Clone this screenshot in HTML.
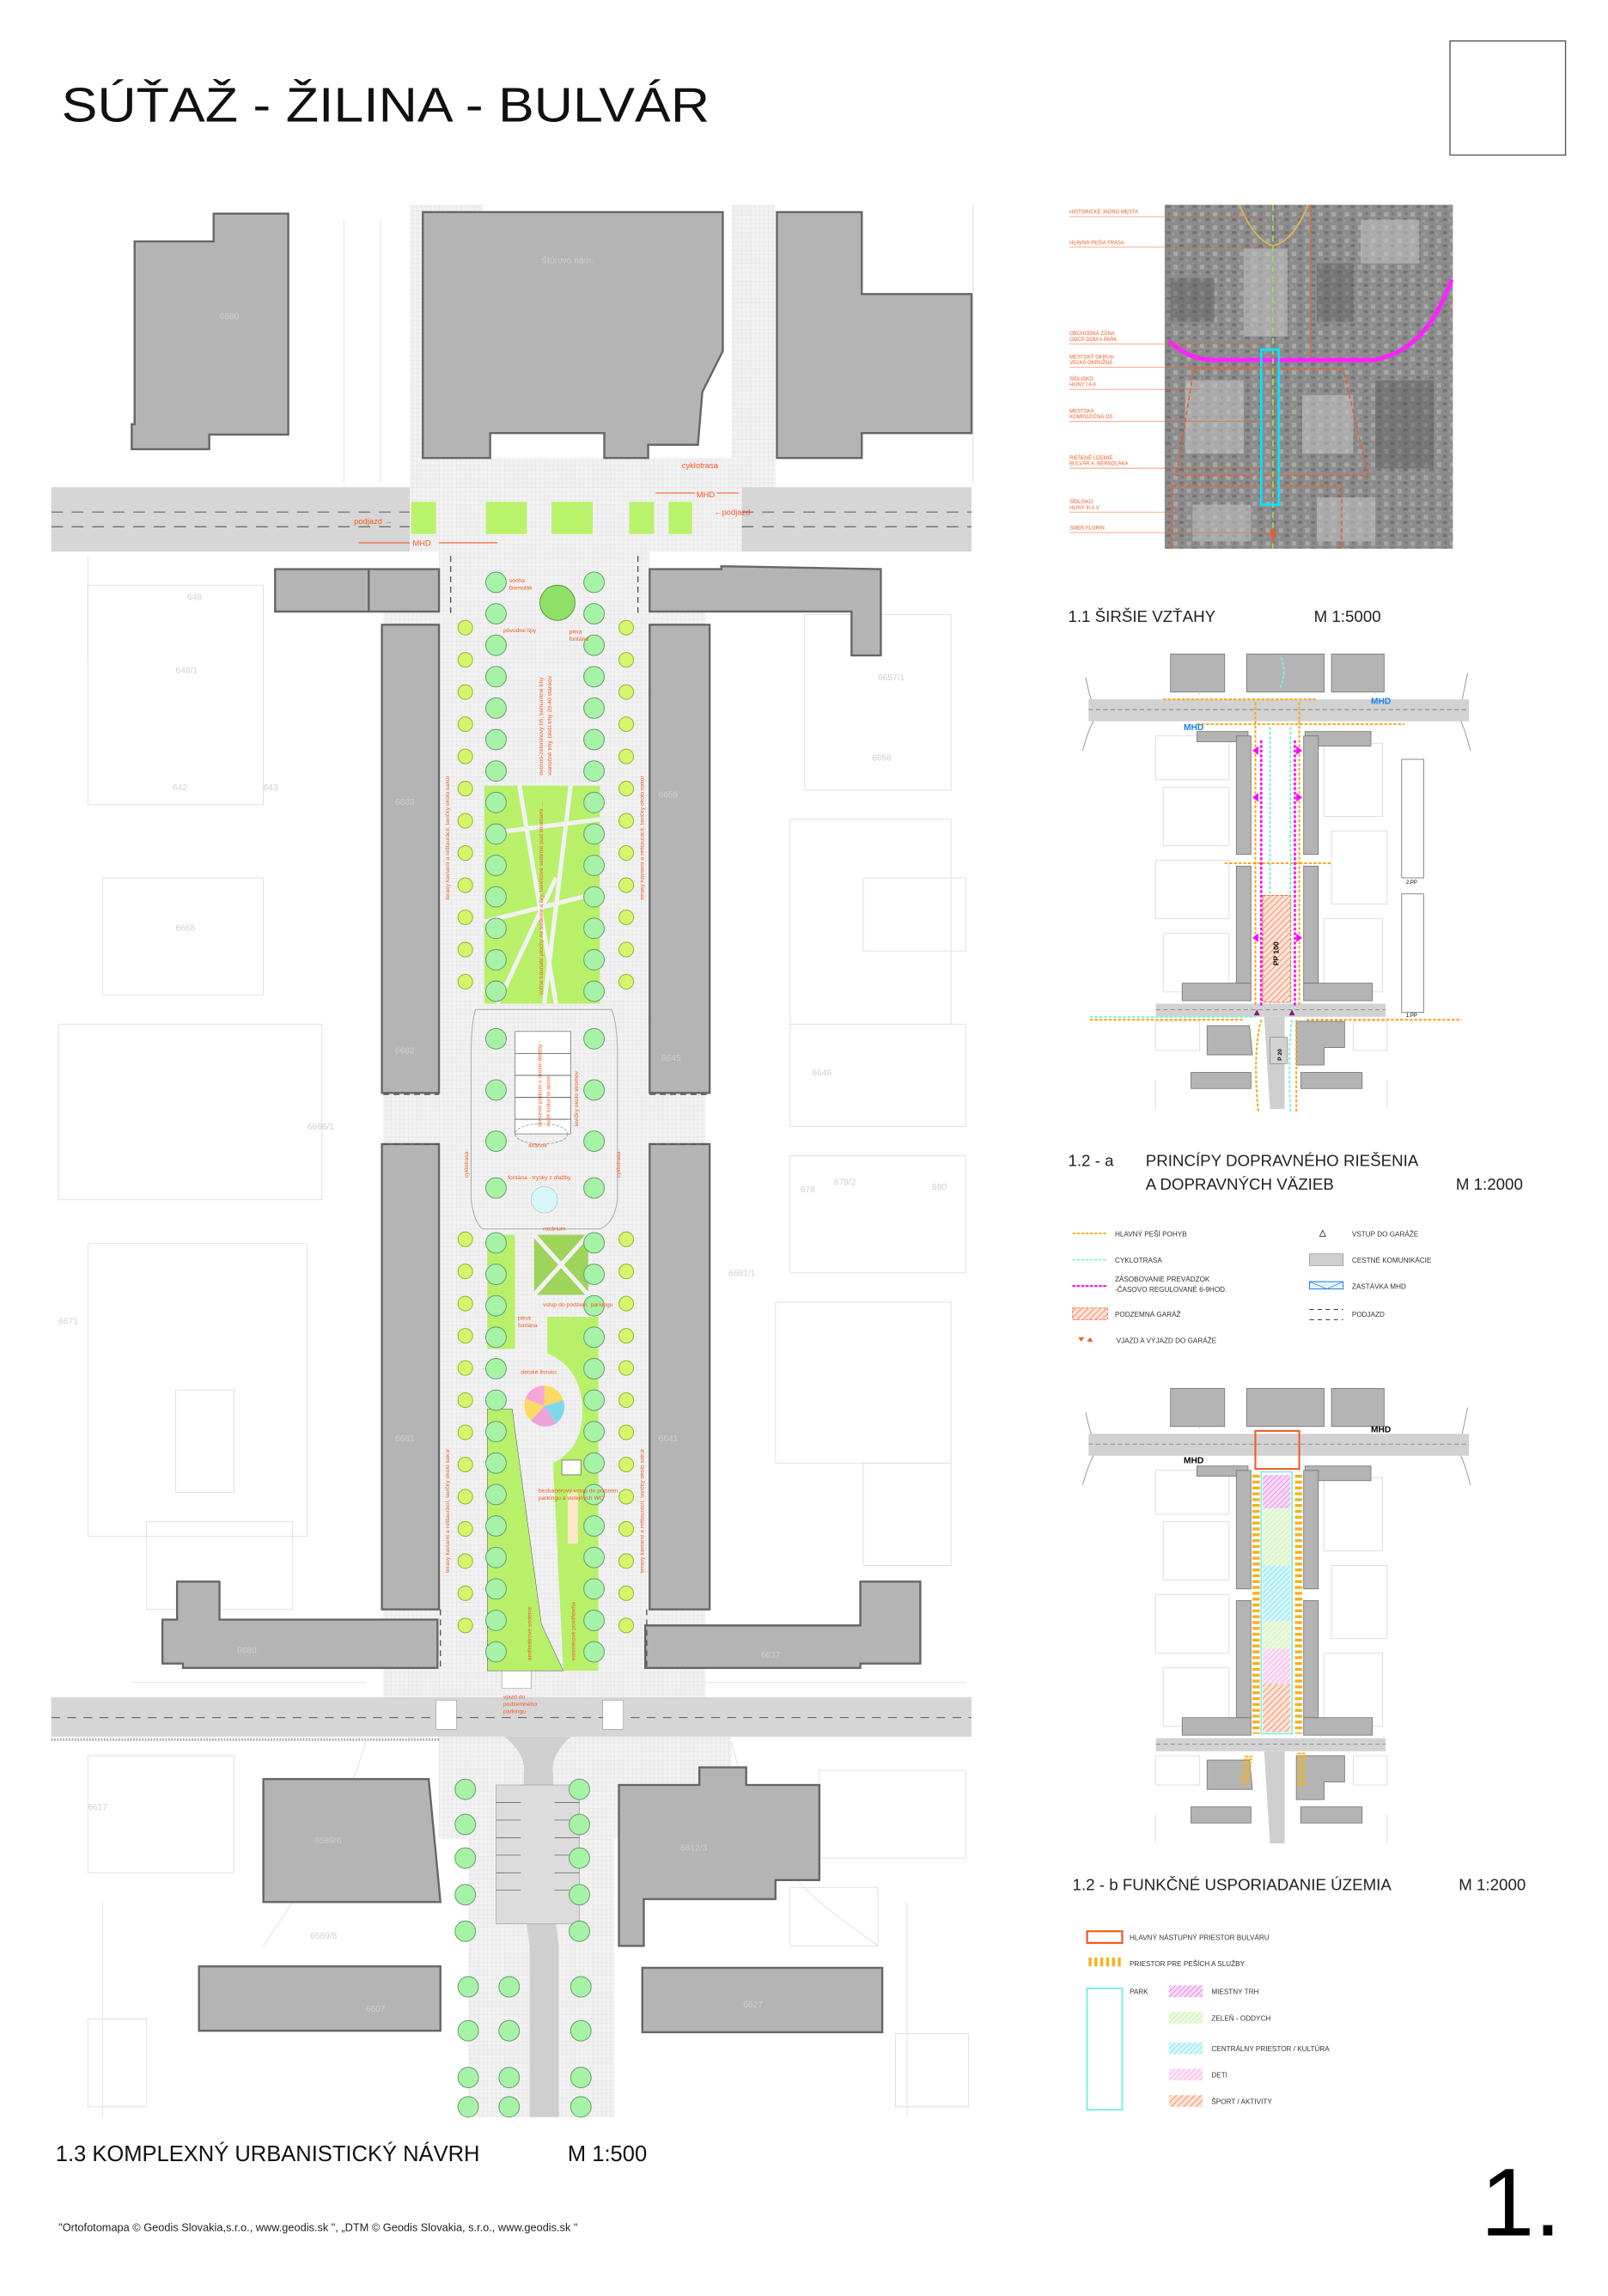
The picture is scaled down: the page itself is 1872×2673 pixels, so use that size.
<!DOCTYPE html>
<html><head><meta charset="utf-8">
<style>
html,body{margin:0;padding:0;background:#fff;}
svg{display:block;}
text{font-family:"Liberation Sans",sans-serif;}
</style></head>
<body>
<svg id="s" width="1872" height="2673" viewBox="0 0 1099 1569.3" xmlns="http://www.w3.org/2000/svg">
<defs>
  <pattern id="grid" width="3" height="3" patternUnits="userSpaceOnUse">
    <rect width="3" height="3" fill="#f2f2f2"/>
    <path d="M0 0H3M0 0V3" stroke="#dcdcdc" stroke-width="0.4"/>
  </pattern>
  <pattern id="hOr" width="3" height="3" patternUnits="userSpaceOnUse" patternTransform="rotate(45)">
    <rect width="3" height="3" fill="#fde3d8"/><path d="M0 0V3" stroke="#f26b3a" stroke-width="0.8"/>
  </pattern>
  <pattern id="hMg" width="2.5" height="2.5" patternUnits="userSpaceOnUse" patternTransform="rotate(45)">
    <rect width="3" height="3" fill="#f8dcf6"/><path d="M0 0V3" stroke="#e040e0" stroke-width="0.6"/>
  </pattern>
  <pattern id="hGr" width="2.5" height="2.5" patternUnits="userSpaceOnUse" patternTransform="rotate(45)">
    <rect width="3" height="3" fill="#eefbe3"/><path d="M0 0V3" stroke="#a7ec7a" stroke-width="0.6"/>
  </pattern>
  <pattern id="hCy" width="2.5" height="2.5" patternUnits="userSpaceOnUse" patternTransform="rotate(45)">
    <rect width="3" height="3" fill="#d8f7fb"/><path d="M0 0V3" stroke="#37d6ef" stroke-width="0.6"/>
  </pattern>
  <pattern id="hPk" width="2.5" height="2.5" patternUnits="userSpaceOnUse" patternTransform="rotate(45)">
    <rect width="3" height="3" fill="#fbe6f6"/><path d="M0 0V3" stroke="#f08ad8" stroke-width="0.6"/>
  </pattern>
  <pattern id="yStr" width="2" height="4" patternUnits="userSpaceOnUse">
    <rect width="2" height="4" fill="#fff"/><rect width="2" height="2" fill="#f6b21b"/>
  </pattern>
  <pattern id="yStrV" width="4" height="2" patternUnits="userSpaceOnUse">
    <rect width="4" height="2" fill="#fff"/><rect width="2" height="2" fill="#f6b21b"/>
  </pattern>
  <pattern id="aer" width="9" height="9" patternUnits="userSpaceOnUse">
    <rect width="9" height="9" fill="#8c8c8c"/>
    <rect x="1" y="1" width="3" height="3" fill="#a8a8a8"/>
    <rect x="5" y="5" width="3" height="2" fill="#727272"/>
    <rect x="0" y="6" width="2" height="2" fill="#9a9a9a"/>
    <rect x="6" y="1" width="2" height="2" fill="#7c7c7c"/>
  </pattern>

  <!-- BASE SMALL PLAN (b coords) -->
  <g id="base">
    <g fill="none" stroke="#d0d0d0" stroke-width="0.4">
      <rect x="790" y="1005" width="50" height="30"/><rect x="795" y="1040" width="45" height="40"/>
      <rect x="790" y="1090" width="50" height="40"/><rect x="795" y="1140" width="45" height="40"/>
      <rect x="905" y="1010" width="40" height="50"/><rect x="910" y="1070" width="38" height="50"/>
      <rect x="905" y="1130" width="40" height="50"/><rect x="790" y="1200" width="30" height="20"/>
      <rect x="925" y="1200" width="23" height="20"/><path d="M790 1240V1260M948 1240V1260M820 960V977M940 960V977"/>
    </g>
    <path d="M748 985Q745 980 742 965M748 994Q744 1000 740 1015M998 985Q1000 978 1003 962M998 994Q1001 1000 1005 1015" stroke="#888" stroke-width="0.5" fill="none"/>
    <rect x="744" y="980" width="260" height="15" fill="#d2d2d2"/>
    <path d="M744 987H1004" stroke="#666" stroke-width="0.4" stroke-dasharray="3 2"/>
    <rect x="790" y="1188" width="157" height="9" fill="#d2d2d2"/>
    <path d="M790 1192H947" stroke="#666" stroke-width="0.4" stroke-dasharray="3 2"/>
    <path d="M864 1197H878V1260H868Z" fill="#cfcfcf"/>
    <g fill="#b4b4b4" stroke="#777" stroke-width="0.5">
      <rect x="800" y="949" width="37" height="26"/><rect x="852" y="949" width="53" height="26"/><rect x="910" y="949" width="36" height="26"/>
      <rect x="818" y="1002" width="35" height="7"/><rect x="892" y="1002" width="45" height="10"/>
      <rect x="845" y="1005" width="10" height="81"/><rect x="845" y="1094" width="10" height="80"/>
      <rect x="891" y="1005" width="10" height="81"/><rect x="891" y="1094" width="10" height="80"/>
      <rect x="808" y="1174" width="47" height="12"/><rect x="891" y="1174" width="47" height="12"/>
      <polygon points="825,1203 854,1203 856,1223 825,1223"/><polygon points="886,1200 919,1200 919,1218 905,1218 905,1230 886,1230"/>
      <rect x="814" y="1235" width="41" height="11"/><rect x="889" y="1235" width="42" height="11"/>
    </g>
  </g>
</defs>

<!-- TITLE -->
<text x="42" y="83" font-size="33" textLength="443" lengthAdjust="spacingAndGlyphs" fill="#111">SÚŤAŽ - ŽILINA - BULVÁR</text>
<rect x="991" y="28" width="79" height="78" fill="none" stroke="#555" stroke-width="0.8"/>

<!-- ================= MAIN PLAN ================= -->
<g id="main">
  <g fill="none" stroke="#dcdcdc" stroke-width="0.5">
    <rect x="60" y="400" width="120" height="150"/><rect x="70" y="600" width="110" height="80"/>
    <rect x="40" y="700" width="180" height="120"/><rect x="60" y="850" width="150" height="200"/>
    <rect x="550" y="420" width="100" height="120"/><rect x="540" y="560" width="110" height="140"/>
    <rect x="590" y="600" width="70" height="50"/><rect x="540" y="700" width="120" height="70"/>
    <rect x="540" y="790" width="120" height="80"/><rect x="530" y="890" width="120" height="110"/>
    <rect x="590" y="1000" width="60" height="70"/><rect x="60" y="1200" width="100" height="80"/>
    <rect x="560" y="1210" width="100" height="60"/><rect x="60" y="1380" width="40" height="60"/>
    <rect x="612" y="1390" width="50" height="50"/><rect x="100" y="1040" width="100" height="60"/>
    <rect x="120" y="950" width="40" height="70"/><rect x="540" y="1290" width="60" height="40"/>
    <path d="M235 150V330M260 150V330M290 330V140M665 140V330M60 380V450M250 1190C230 1260 200 1300 180 1330M500 1190C520 1280 560 1300 600 1330M70 1300V1447M620 1300V1447M90 1150H250M440 1150H660"/>
  </g>
  <rect x="280" y="140" width="50" height="237" fill="url(#grid)"/>
  <rect x="500" y="140" width="30" height="195" fill="url(#grid)"/>
  <rect x="330" y="313" width="200" height="22" fill="url(#grid)"/>
  <rect x="300" y="377" width="144" height="783" fill="url(#grid)"/>
  <rect x="262" y="418" width="40" height="742" fill="url(#grid)"/>
  <rect x="442" y="418" width="40" height="742" fill="url(#grid)"/>
  <rect x="300" y="1187" width="200" height="70" fill="url(#grid)"/>
  <rect x="320" y="1187" width="100" height="260" fill="url(#grid)"/>

  <rect x="35" y="333" width="629" height="44" fill="#d6d6d6"/>
  <rect x="280" y="333" width="227" height="44" fill="url(#grid)"/>
  <g fill="#b9f26b"><rect x="281" y="343" width="17" height="22"/><rect x="332" y="343" width="28" height="22"/><rect x="377" y="343" width="28" height="22"/><rect x="430" y="343" width="17" height="22"/><rect x="457" y="343" width="16" height="22"/></g>
  <path d="M35 350H280M507 350H664M35 360H280M507 360H664" stroke="#555" stroke-width="0.6" stroke-dasharray="8 6"/>
  <rect x="35" y="1160" width="629" height="27" fill="#d6d6d6"/>
  <path d="M35 1174H664" stroke="#444" stroke-width="0.5" stroke-dasharray="6 5"/>
  <path d="M35 1189H300" stroke="#aaa" stroke-width="2" stroke-dasharray="1 1"/>
  <path d="M345 1187Q360 1200 358 1212V1300L362 1330V1447H382V1330L378 1300V1212Q376 1200 390 1187Z" fill="#cfcfcf"/>
  <rect x="339" y="1220" width="57" height="95" fill="#dcdcdc" stroke="#888" stroke-width="0.3"/>
  <g stroke="#555" stroke-width="0.4"><path d="M339 1232H356M339 1244H356M339 1256H356M339 1268H356M339 1280H356M339 1292H356M379 1232H396M379 1244H396M379 1256H396M379 1268H396M379 1280H396M379 1292H396"/></g>
  <g fill="#fff" stroke="#888" stroke-width="0.3"><rect x="343" y="1140" width="20" height="14"/><rect x="298" y="1162" width="14" height="20"/><rect x="412" y="1162" width="14" height="20"/></g>

  <rect x="331" y="537" width="79" height="149" fill="#b8f06a"/>
  <g stroke="#f2f2f2" stroke-width="3" fill="none"><path d="M331 570L410 560M355 537L380 686M331 630L410 610M390 537L372 686M340 686L380 600"/></g>
  <path d="M325 690Q322 700 322 720V820Q324 836 330 840H410Q420 836 422 820V720Q422 700 418 690Z" fill="none" stroke="#aaa" stroke-width="0.6"/>
  <rect x="352" y="705" width="38" height="70" fill="#fff" stroke="#666" stroke-width="0.4"/>
  <path d="M352 720H390M352 735H390M352 750H390M352 765H390" stroke="#555" stroke-width="0.5"/>
  <circle cx="372" cy="820" r="9" fill="#d6f7f7" stroke="#aaa" stroke-width="0.3"/>
  <ellipse cx="370" cy="775" rx="18" ry="7" fill="none" stroke="#888" stroke-width="0.4" stroke-dasharray="2 1"/>
  <rect x="333" y="844" width="19" height="78" fill="#b8f06a"/>
  <rect x="365" y="844" width="37" height="41" fill="#9fd45a"/>
  <path d="M365 844L402 885M402 844L365 885" stroke="#f2f2f2" stroke-width="3"/>
  <path d="M374 900H409V1142H385L378 1000Q398 990 398 965Q398 935 374 925Z" fill="#b8f06a"/>
  <path d="M333 963H350L370 1110L385 1142H333Z" fill="#b8f06a" stroke="#557" stroke-width="0.3"/>
  <rect x="384" y="998" width="13" height="10" fill="#fff" stroke="#555" stroke-width="0.4"/>
  <rect x="388" y="1020" width="7" height="35" fill="#fbe8c8"/>
  <g transform="translate(372,961)">
    <path d="M0 0L0 -14A14 14 0 0 1 13 -4Z" fill="#fbd965"/>
    <path d="M0 0L13 -4A14 14 0 0 1 8 12Z" fill="#7dd8ea"/>
    <path d="M0 0L8 12A14 14 0 0 1 -9 10Z" fill="#eca3d8"/>
    <path d="M0 0L-9 10A14 14 0 0 1 -13 -5Z" fill="#fbd965"/>
    <path d="M0 0L-13 -5A14 14 0 0 1 0 -14Z" fill="#f5a6d7"/>
  </g>
  <circle cx="381" cy="412" r="12" fill="#8fe066" stroke="#5c9c3a" stroke-width="0.6"/>

  <g fill="#b4b4b4" stroke="#666" stroke-width="1.4">
    <polygon points="92,165 146,165 146,146 197,146 197,297 143,297 143,307 90,307 90,290 92,290"/>
    <polygon points="289,145 494,145 494,240 480,268 477,304 443,304 443,313 413,313 413,296 335,296 335,313 289,313"/>
    <polygon points="531,145 589,145 589,201 664,201 664,296 589,296 589,313 531,313"/>
    <rect x="188" y="389" width="64" height="29"/><rect x="252" y="389" width="48" height="29"/>
    <polygon points="444,389 493,389 493,387 602,389 602,448 582,448 582,418 444,418"/>
    <rect x="261" y="427" width="39" height="320"/><rect x="261" y="782" width="39" height="318"/>
    <rect x="444" y="427" width="41" height="320"/><rect x="444" y="782" width="41" height="318"/>
    <polygon points="121,1081 150,1081 150,1107 299,1107 299,1140 125,1140 125,1137 111,1137 111,1107 121,1107"/>
    <polygon points="441,1111 588,1111 588,1081 629,1081 629,1137 588,1137 588,1140 441,1140"/>
    <polygon points="180,1216 293,1216 301,1300 180,1300"/>
    <polygon points="423,1220 478,1220 478,1208 510,1208 510,1220 560,1220 560,1285 530,1285 530,1298 440,1298 440,1330 423,1330"/>
    <rect x="136" y="1344" width="165" height="44"/><rect x="439" y="1345" width="164" height="44"/>
  </g>
  <g fill="none" stroke="#555" stroke-width="0.8" stroke-dasharray="4 3">
    <path d="M262 748H300M262 782H300M444 748H485M444 782H485M301 1100V1142M442 1100V1142M308 380V420M436 380V420"/>
  </g>
  <g font-size="6" fill="#cfcfcf"><text x="150" y="218">6680</text><text x="370" y="180">Štúrovo nám.</text><text x="128" y="410">648</text><text x="120" y="460">648/1</text><text x="118" y="540">642</text><text x="180" y="540">643</text><text x="270" y="550">6683</text><text x="450" y="545">6659</text><text x="600" y="465">6657/1</text><text x="596" y="520">6656</text><text x="120" y="636">6668</text><text x="270" y="720">6682</text><text x="452" y="725">6645</text><text x="555" y="735">6646</text><text x="210" y="772">6666/1</text><text x="547" y="815">678</text><text x="570" y="810">679/2</text><text x="637" y="813">680</text><text x="498" y="872">6681/1</text><text x="40" y="905">6671</text><text x="270" y="985">6681</text><text x="450" y="985">6641</text><text x="162" y="1130">6680</text><text x="520" y="1133">6637</text><text x="215" y="1260">6589/6</text><text x="465" y="1265">6612/3</text><text x="212" y="1325">6589/8</text><text x="250" y="1375">6607</text><text x="508" y="1372">6627</text><text x="60" y="1237">6617</text></g>

  <g id="trees"></g>

  <g font-size="5.5" fill="#f15a22">
    <text x="466" y="320">cyklotrasa</text>
    <text x="476" y="340">MHD</text><path d="M448 337H475M490 337H505" stroke="#f15a22" stroke-width="0.6"/>
    <text x="242" y="358">podjazd →</text><text x="488" y="352">←podjazd</text>
    <text x="282" y="373">MHD</text><path d="M245 371H280M300 371H340" stroke="#f15a22" stroke-width="0.6"/>
    <text x="348" y="398" font-size="4">socha</text><text x="348" y="403" font-size="4">Bernolák</text>
    <text x="344" y="432" font-size="4">pôvodné lipy</text><text x="389" y="433" font-size="4">pitná</text><text x="389" y="438" font-size="4">fontána</text>
    <text x="347" y="806" font-size="4">fontána - trysky z dlažby</text>
    <text x="361" y="784" font-size="4">altánok</text>
    <text x="371" y="841" font-size="4">rozárium</text>
    <text x="371" y="893" font-size="4">vstup do podzem. parkingu</text>
    <text x="354" y="902" font-size="4">pitná</text><text x="354" y="907" font-size="4">fontána</text>
    <text x="356" y="939" font-size="4">detské ihrisko</text>
    <text x="368" y="1020" font-size="4">bezbariérový vstup do podzem.</text><text x="368" y="1025" font-size="4">parkingu a verejných WC</text>
    <text x="344" y="1161" font-size="4">vjazd do</text><text x="344" y="1166" font-size="4">podzemného</text><text x="344" y="1171" font-size="4">parkingu</text>
  </g>
  <g font-size="4" fill="#f15a22">
    <text transform="translate(307,615) rotate(-90)">terasy kaviarní a reštaurácií, lavičky okolo sakúr</text>
    <text transform="translate(440,615) rotate(-90)">terasy kaviarní a reštaurácií, lavičky okolo sakúr</text>
    <text transform="translate(371,680) rotate(-90)">voľné trávnaté plochy na sedenie a hry, lavičkové sedenie pod stromami ...</text>
    <text transform="translate(371,530) rotate(-90)">ovocno-zeleninový trh, komunitné trhy</text>
    <text transform="translate(377,530) rotate(-90)">vianočné trhy, bleší trhy  20-40 stánkov</text>
    <text transform="translate(370,770) rotate(-90)">drevené pódium v úrovni dlažby -</text>
    <text transform="translate(376,770) rotate(-90)">malé kultúrne akcie</text>
    <text transform="translate(395,770) rotate(-90)">lavičky okolo stromov</text>
    <text transform="translate(320,805) rotate(-90)">cyklotrasa</text>
    <text transform="translate(424,805) rotate(-90)">cyklotrasa</text>
    <text transform="translate(307,1075) rotate(-90)">terasy kaviarní a reštaurácií, lavičky okolo sakúr</text>
    <text transform="translate(440,1075) rotate(-90)">terasy kaviarní a reštaurácií, lavičky okolo sakúr</text>
    <text transform="translate(363,1135) rotate(-90)">amfiteátrové sedenie</text>
    <text transform="translate(393,1135) rotate(-90)">exteriérové posilňovňa</text>
  </g>
</g>

<!-- ================= 1.1 AERIAL ================= -->
<rect x="796" y="140" width="197" height="235" fill="url(#aer)"/>
<g fill="#c4c4c4" opacity="0.55">
  <rect x="850" y="170" width="30" height="60"/><rect x="810" y="260" width="40" height="50"/>
  <rect x="890" y="270" width="35" height="40"/><rect x="930" y="150" width="40" height="30"/>
  <rect x="815" y="345" width="40" height="25"/><rect x="900" y="340" width="40" height="30"/>
</g>
<g fill="#555" opacity="0.4">
  <rect x="800" y="190" width="30" height="30"/><rect x="940" y="260" width="40" height="60"/>
  <rect x="900" y="180" width="25" height="40"/>
</g>
<path d="M799 233Q812 245 827 246H939Q975 240 992 191" fill="none" stroke="#ff22ff" stroke-width="3"/>
<path d="M816 252H918L935 325H804Z" fill="none" stroke="#f15a22" stroke-width="0.9" stroke-dasharray="3 2"/>
<path d="M801 332H917V375M801 332V375" fill="none" stroke="#f15a22" stroke-width="0.9" stroke-dasharray="3 2"/>
<path d="M870 140V375" stroke="#9be04a" stroke-width="1" stroke-dasharray="4 3"/>
<path d="M896 140V245" stroke="#f15a22" stroke-width="0.8" stroke-dasharray="2 1"/>
<path d="M847 140Q858 165 870 168Q884 165 894 140" fill="none" stroke="#e6b650" stroke-width="1"/>
<rect x="862" y="239" width="12" height="106" fill="none" stroke="#00e5ff" stroke-width="1.6"/>
<path d="M870 372L868 362L872 362Z" fill="#f15a22"/>
<g font-size="3.5" fill="#f15a22">
  <text x="731" y="146">HISTORICKÉ JADRO MESTA</text><text x="731" y="167">HLAVNÁ PEŠIA TRASA</text>
  <text x="731" y="229">OBCHODNÁ ZÓNA</text><text x="731" y="233">OOCP DOM A PARK</text>
  <text x="731" y="245">MESTSKÝ OKRUH</text><text x="731" y="249">VEĽKÁ OKRUŽNÁ</text>
  <text x="731" y="260">SÍDLISKO</text><text x="731" y="264">HLINY I A II</text>
  <text x="731" y="282">MESTSKÁ</text><text x="731" y="286">KOMPOZIČNÁ OS</text>
  <text x="731" y="314">RIEŠENÉ ÚZEMIE</text><text x="731" y="318">BULVÁR A. BERNOLÁKA</text>
  <text x="731" y="344">SÍDLISKO</text><text x="731" y="348">HLINY III A V</text>
  <text x="731" y="362">SMER FLORIN</text>
</g>
<g stroke="#f15a22" stroke-width="0.3"><path d="M731 148H866M731 169H866M731 235H866M731 251H870M731 266H820M731 288H866M731 320H864M731 350H805M731 364H866"/></g>
<text x="730" y="425" font-size="11" fill="#222">1.1   ŠIRŠIE VZŤAHY</text>
<text x="898" y="425" font-size="11" fill="#222">M 1:5000</text>

<!-- 1.2-a diagram -->
<use href="#base" transform="translate(0,-502)"/>
<g>
  <g fill="none" stroke-width="1.2" stroke-dasharray="2 1.2">
    <path d="M858 480V688M888 480V688M795 478H900M818 495H960M837 590H910M745 697H850M893 697H999M862 697Q856 720 860 760M886 697V760" stroke="#f6a81b"/>
    <path d="M868 497V688M882 497V688M745 695H858M883 697Q880 720 882 760M875 470Q880 460 875 448" stroke="#7ef0e0"/>
    <path d="M862 506V688M885 506V688" stroke="#f0f" stroke-width="1.5"/>
  </g>
  <rect x="863" y="612" width="19" height="73" fill="url(#hOr)" stroke="#f15a22" stroke-width="0.5" stroke-dasharray="2 1"/>
  <text transform="translate(874,660) rotate(-90)" font-size="5" font-weight="bold">PP 100</text>
  <rect x="868" y="709" width="12" height="18" fill="#d2d2d2" stroke="#666" stroke-width="0.3"/>
  <text transform="translate(876,725) rotate(-90)" font-size="4" font-weight="bold">P 20</text>
  <text x="937" y="481" font-size="6" font-weight="bold" fill="#1a7fe8">MHD</text>
  <text x="809" y="499" font-size="6" font-weight="bold" fill="#1a7fe8">MHD</text>
  <g fill="#f0f"><path d="M856 513l4 -3v6z M890 513l-4 -3v6z M856 545l4 -3v6z M890 545l-4 -3v6z M856 641l4 -3v6z M890 641l-4 -3v6z"/></g>
  <path d="M857 694l2 -4 2 4z M881 694l2 -4 2 4z" fill="#8b1a7a"/>
  <g fill="none" stroke="#555" stroke-width="0.4"><rect x="958" y="519" width="15" height="81"/><rect x="958" y="611" width="15" height="81"/></g>
  <text x="961" y="604" font-size="3.5">2.PP</text><text x="961" y="695" font-size="3.5">1.PP</text>
</g>
<text x="730" y="797" font-size="11" fill="#222">1.2 - a</text>
<text x="783" y="797" font-size="11" fill="#222">PRINCÍPY DOPRAVNÉHO RIEŠENIA</text>
<text x="783" y="813" font-size="11" fill="#222">A DOPRAVNÝCH VÄZIEB</text>
<text x="995" y="813" font-size="11" fill="#222">M 1:2000</text>

<g font-size="4.8" fill="#333">
  <path d="M733 843H757" stroke="#f6a81b" stroke-width="1" stroke-dasharray="2 1"/><text x="762" y="845">HLAVNÝ PEŠÍ POHYB</text>
  <path d="M733 861H757" stroke="#7ef0e0" stroke-width="1" stroke-dasharray="2 1"/><text x="762" y="863">CYKLOTRASA</text>
  <path d="M733 879H757" stroke="#f0f" stroke-width="1.2" stroke-dasharray="2 1"/><text x="762" y="876">ZÁSOBOVANIE PREVÁDZOK</text><text x="762" y="883">-ČASOVO REGULOVANÉ 6-9HOD.</text>
  <rect x="733" y="894" width="24" height="8" fill="url(#hOr)" stroke="#f15a22" stroke-width="0.4" stroke-dasharray="2 1"/><text x="762" y="900">PODZEMNÁ GARÁŽ</text>
  <path d="M737 914h4l-2 3z M743 917h4l-2 -3z" fill="#f15a22"/><text x="763" y="918">VJAZD A VÝJAZD DO GARÁŽE</text>
  <path d="M902 845l2 -4 2 4z" fill="none" stroke="#333" stroke-width="0.5"/><text x="924" y="845">VSTUP DO GARÁŽE</text>
  <rect x="895" y="857" width="23" height="8" fill="#cfcfcf" stroke="#888" stroke-width="0.4"/><text x="924" y="863">CESTNÉ KOMUNIKÁCIE</text>
  <rect x="895" y="876" width="23" height="5" fill="#e8f2ff" stroke="#1a7fe8" stroke-width="0.6"/><path d="M895 876L907 881L918 876" stroke="#1a7fe8" stroke-width="0.4" fill="none"/><text x="924" y="881">ZASTÁVKA MHD</text>
  <path d="M895 895H918M895 902H918" stroke="#333" stroke-width="0.6" stroke-dasharray="3 2.5"/><text x="924" y="900">PODJAZD</text>
</g>

<!-- 1.2-b diagram -->
<use href="#base"/>
<g>
  <rect x="856" y="1006" width="5" height="179" fill="url(#yStr)"/>
  <rect x="885" y="1006" width="5" height="179" fill="url(#yStr)"/>
  <rect x="863" y="1008" width="19" height="23" fill="url(#hMg)"/>
  <rect x="863" y="1031" width="19" height="39" fill="url(#hGr)"/>
  <rect x="863" y="1070" width="19" height="38" fill="url(#hCy)"/>
  <rect x="863" y="1108" width="19" height="19" fill="url(#hGr)"/>
  <rect x="863" y="1127" width="19" height="24" fill="url(#hPk)"/>
  <rect x="863" y="1151" width="19" height="33" fill="url(#hOr)"/>
  <rect x="862" y="1006" width="21" height="179" fill="none" stroke="#7ef0e0" stroke-width="1"/>
  <rect x="858" y="978" width="30" height="26" fill="none" stroke="#f15a22" stroke-width="1.2"/>
  <path d="M852 1200l-3 20 M855 1200l-3 20 M888 1198V1222M891 1198V1222" stroke="#f6b21b" stroke-width="2.5" stroke-dasharray="1 1"/>
  <text x="937" y="979" font-size="6" font-weight="bold">MHD</text>
  <text x="809" y="1000" font-size="6" font-weight="bold">MHD</text>
</g>
<text x="733" y="1292" font-size="11" fill="#222">1.2 - b  FUNKČNÉ USPORIADANIE ÚZEMIA</text>
<text x="997" y="1292" font-size="11" fill="#222">M 1:2000</text>

<g font-size="4.8" fill="#333">
  <rect x="743" y="1320" width="24" height="8" fill="none" stroke="#f15a22" stroke-width="1.3"/><text x="772" y="1326">HLAVNÝ NÁSTUPNÝ PRIESTOR BULVÁRU</text>
  <rect x="743" y="1338" width="24" height="6" fill="url(#yStrV)"/><text x="772" y="1344">PRIESTOR PRE PEŠÍCH A SLUŽBY</text>
  <rect x="743" y="1359" width="24" height="83" fill="none" stroke="#7ef0e0" stroke-width="1.2"/><text x="772" y="1363">PARK</text>
  <rect x="799" y="1357" width="23" height="8" fill="url(#hMg)"/><text x="828" y="1363">MIESTNY TRH</text>
  <rect x="799" y="1375" width="23" height="8" fill="url(#hGr)"/><text x="828" y="1381">ZELEŇ - ODDYCH</text>
  <rect x="799" y="1396" width="23" height="8" fill="url(#hCy)"/><text x="828" y="1402">CENTRÁLNY PRIESTOR / KULTÚRA</text>
  <rect x="799" y="1414" width="23" height="8" fill="url(#hPk)"/><text x="828" y="1420">DETI</text>
  <rect x="799" y="1432" width="23" height="8" fill="url(#hOr)"/><text x="828" y="1438">ŠPORT /  AKTIVITY</text>
</g>

<text x="38" y="1477" font-size="15" fill="#111">1.3  KOMPLEXNÝ URBANISTICKÝ NÁVRH</text>
<text x="388" y="1477" font-size="15" fill="#111">M 1:500</text>
<text x="40" y="1525" font-size="7.5" fill="#222">"Ortofotomapa © Geodis Slovakia,s.r.o., www.geodis.sk ",  „DTM © Geodis Slovakia, s.r.o.,  www.geodis.sk "</text>
<text x="1012" y="1528" font-size="66" fill="#000">1.</text>
</svg>
<script>
(function(){
 var g=document.getElementById('trees'),h='';
 function t(x,y,r,f,s){h+='<circle cx="'+x+'" cy="'+y+'" r="'+r+'" fill="'+f+'" stroke="'+s+'" stroke-width="0.6"/>';}
 for(var y=429;y<1130;y+=22){
   if(y>690&&y<840) continue;
   t(318,y,5,'#d7f56b','#8fb83a'); t(428,y,5,'#d7f56b','#8fb83a');
 }
 for(var y=398;y<1140;y+=21.5){
   if(y>690&&y<840) continue;
   t(339,y,7,'#a6f3a8','#6c9c6c'); t(406,y,7,'#a6f3a8','#6c9c6c');
 }
 [710,745,780,812].forEach(function(y){t(339,y,7,'#a6f3a8','#6c9c6c');t(406,y,7,'#a6f3a8','#6c9c6c');});
 [1223,1247,1270,1295,1320].forEach(function(y){t(318,y,7,'#a6f3a8','#6c9c6c');t(396,y,7,'#a6f3a8','#6c9c6c');});
 [1358,1388,1420,1440].forEach(function(y){t(320,y,7,'#a6f3a8','#6c9c6c');t(348,y,7,'#a6f3a8','#6c9c6c');t(397,y,7,'#a6f3a8','#6c9c6c');});
 g.innerHTML=h;
})();
</script>
</body></html>
